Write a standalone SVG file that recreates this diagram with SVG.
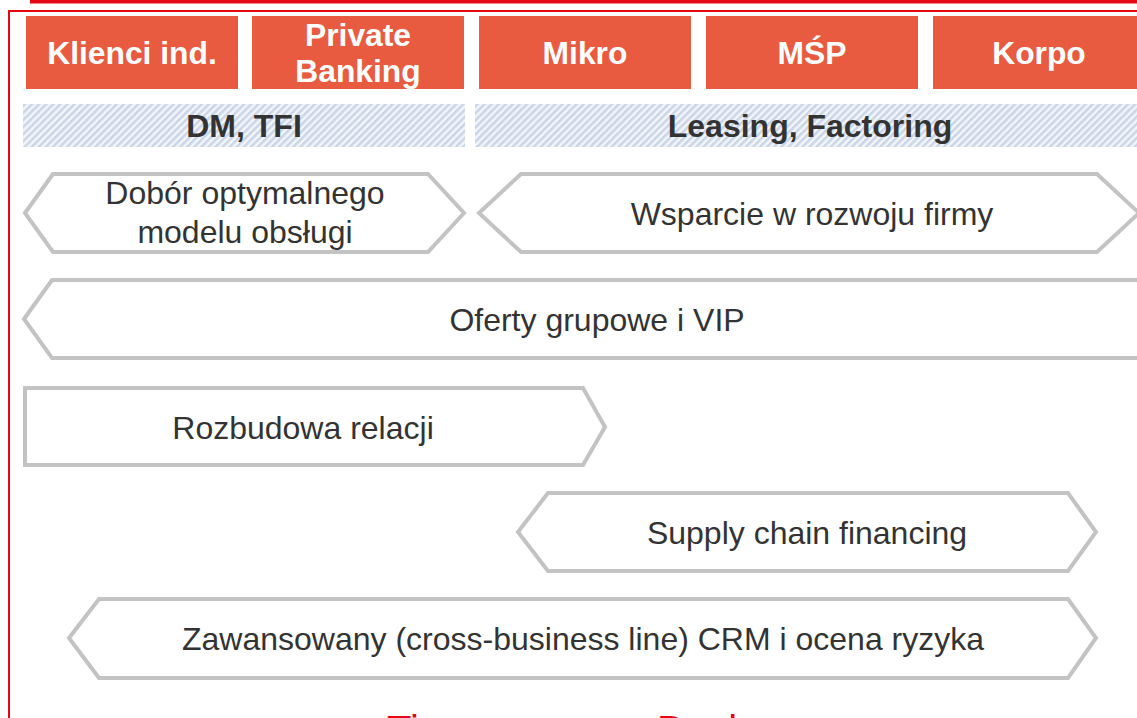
<svg xmlns="http://www.w3.org/2000/svg" width="1137" height="718" viewBox="0 0 1137 718">
<defs>
<pattern id="hatch" patternUnits="userSpaceOnUse" width="5" height="5" patternTransform="rotate(45)">
<rect width="5" height="5" fill="#f4f6fa"/>
<rect width="2.6" height="5" fill="#cad6e7"/>
</pattern>
</defs>
<style>
.hdr{fill:#e95b40}
.hdrt{font-family:"Liberation Sans",Arial,sans-serif;font-weight:bold;font-size:31.8px;fill:#ffffff;text-anchor:middle}
.bar{fill:url(#hatch)}
.bart{font-family:"Liberation Sans",Arial,sans-serif;font-weight:bold;font-size:32px;fill:#333333;text-anchor:middle}
.chev{fill:#ffffff;stroke:#c3c3c3;stroke-width:4;stroke-linejoin:miter}
.ct{font-family:"Liberation Sans",Arial,sans-serif;font-size:32px;fill:#333333;text-anchor:middle}
.red{font-family:"Liberation Sans",Arial,sans-serif;font-size:40px;fill:#e30613}
</style>
<rect width="1137" height="718" fill="#ffffff"/>
<rect x="30" y="0" width="1107" height="3.5" fill="#e30613"/>
<rect x="9" y="11" width="1140" height="720" fill="none" stroke="#e30613" stroke-width="2"/>

<g id="header-klienci"><rect class="hdr" x="26" y="16" width="212" height="73"/><text class="hdrt" x="132" y="64">Klienci ind.</text></g>
<g id="header-private"><rect class="hdr" x="252" y="16" width="212" height="73"/><text class="hdrt" x="358" y="46">Private</text><text class="hdrt" x="358" y="82">Banking</text></g>
<g id="header-mikro"><rect class="hdr" x="479" y="16" width="212" height="73"/><text class="hdrt" x="585" y="64">Mikro</text></g>
<g id="header-msp"><rect class="hdr" x="706" y="16" width="212" height="73"/><text class="hdrt" x="812" y="64">MŚP</text></g>
<g id="header-korpo"><rect class="hdr" x="933" y="16" width="212" height="73"/><text class="hdrt" x="1039" y="64">Korpo</text></g>

<g id="bar-dm"><rect class="bar" x="23" y="104" width="442" height="43"/><text class="bart" x="244" y="137">DM, TFI</text></g>
<g id="bar-leasing"><rect class="bar" x="475" y="104" width="670" height="43"/><text class="bart" x="810" y="137">Leasing, Factoring</text></g>

<g id="chev-dobor"><polygon class="chev" points="25,213 53,174 428,174 464,213 428,252 53,252"/><text class="ct" x="245" y="204">Dobór optymalnego</text><text class="ct" x="245" y="243">modelu obsługi</text></g>
<g id="chev-wsparcie"><polygon class="chev" points="479,213 521,174 1097,174 1139,213 1097,252 521,252"/><text class="ct" x="812" y="225">Wsparcie w rozwoju firmy</text></g>
<g id="chev-oferty"><polygon class="chev" points="24,319 52,280 1150,280 1150,358 52,358"/><text class="ct" x="597" y="331">Oferty grupowe i VIP</text></g>
<g id="chev-rozbudowa"><polygon class="chev" points="25,388 583,388 605,427 583,465 25,465"/><text class="ct" x="303" y="439">Rozbudowa relacji</text></g>
<g id="chev-supply"><polygon class="chev" points="518,532 548,493 1068,493 1096,532 1068,571 548,571"/><text class="ct" x="807" y="544">Supply chain financing</text></g>
<g id="chev-crm"><polygon class="chev" points="69,638 99,599 1068,599 1096,638 1068,678 99,678"/><text class="ct" x="583" y="650">Zawansowany (cross-business line) CRM i ocena ryzyka</text></g>

<g id="footer"><text class="red" y="744"><tspan x="387">Ti</tspan><tspan x="657">Bank</tspan></text></g>
<g id="connectors"></g>
</svg>
